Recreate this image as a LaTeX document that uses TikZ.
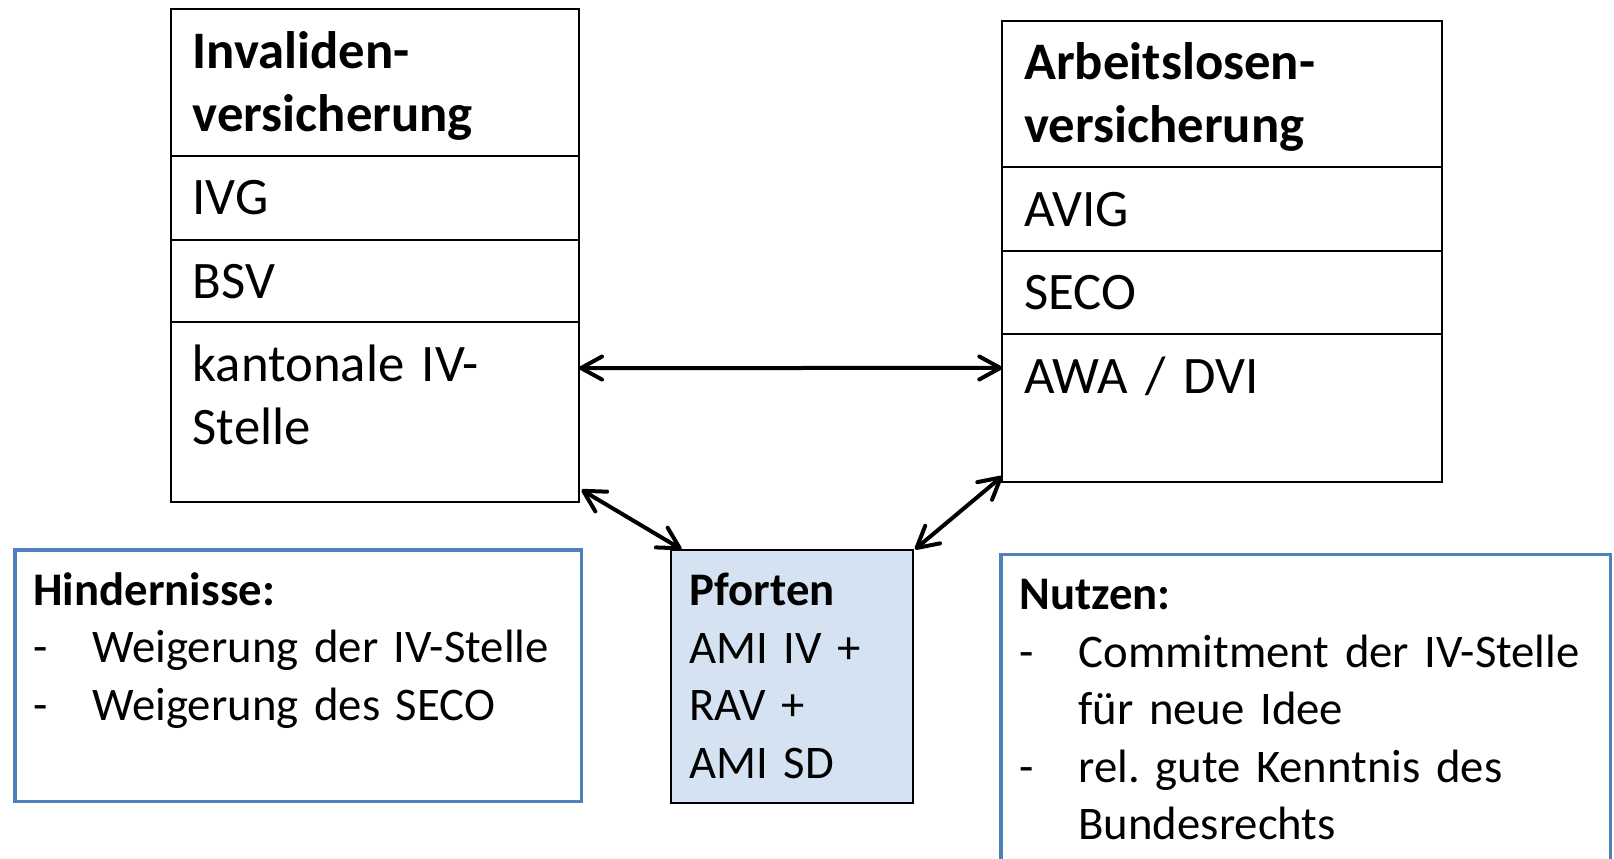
\documentclass[tikz,border=0pt]{standalone}
\usepackage{fontspec}
\setmainfont{Carlito}
\usetikzlibrary{positioning,arrows.meta}
\definecolor{randblau}{HTML}{4F81BD}
\definecolor{pfortenblau}{HTML}{D5E2F2}
\newcommand\grosstext{\fontsize{30}{36}\selectfont}
\newcommand\kleintext{\fontsize{26.6}{32.7}\selectfont}
\newcommand\strich[1]{\makebox[1.18cm][l]{-}\mbox{#1}}
\newcommand\weiter[1]{\hspace*{1.18cm}\mbox{#1}}
\frenchspacing
\tikzset{
	cell/.style={draw,line width=0.04cm,inner xsep=0.44cm,inner ysep=0pt,outer sep=0pt,
	align=left,text width=#1,text height=1.18cm,font=\grosstext},
	infobox/.style={draw=randblau,line width=0.066cm,inner xsep=0.37cm,inner ysep=0pt,
	anchor=north west,align=left,text width=#1,text height=1.11cm,font=\kleintext},
	dblarrow/.style={{Straight Barb[length=0.42cm,width=0.46cm,round]}-{Straight Barb[length=0.42cm,width=0.46cm,round]},line width=0.08cm}
}
\begin{document}
\begin{tikzpicture}
	\clip (0,0) rectangle (32.28,17.16);
	\useasboundingbox (0,0) rectangle (32.28,17.16);
	\node(ivkopf) [cell=7.286cm,anchor=north west,text depth=1.75cm] at (3.414,16.974) {\textbf{Invaliden-}\\\textbf{versicherung}};
	\node(ivg) [cell=7.286cm,text depth=0.5cm,below=0pt of ivkopf] {IVG};
	\node(bsv) [cell=7.286cm,text depth=0.47cm,below=0pt of ivg] {BSV};
	\node(kant) [cell=7.286cm,text depth=2.41cm,below=0pt of bsv] {kantonale IV-\\Stelle};
	\node(alkopf) [cell=7.91cm,anchor=north west,text depth=1.75cm] at (20.046,16.746) {\textbf{Arbeitslosen-}\\\textbf{versicherung}};
	\node(avig) [cell=7.91cm,text depth=0.49cm,below=0pt of alkopf] {AVIG};
	\node(seco) [cell=7.91cm,text depth=0.49cm,below=0pt of avig] {SECO};
	\node(awa) [cell=7.91cm,text depth=1.77cm,below=0pt of seco] {AWA / DVI};
	\node(hindernisse) [infobox=10.59cm,text depth=3.92cm] at (0.266,6.194) {\textbf{Hindernisse:}\\\strich{Weigerung der IV-Stelle}\\\strich{Weigerung des SECO}};
	\node(pforten) [infobox=4.1cm,draw=black,line width=0.04cm,fill=pfortenblau,text depth=3.94cm] at (13.4,6.174) {\textbf{Pforten}\\AMI IV +\\RAV +\\AMI SD};
	\node(nutzen) [infobox=11.45cm,text depth=5.4cm] at (19.986,6.106) {\textbf{Nutzen:}\\\strich{Commitment der IV-Stelle}\\\weiter{für neue Idee}\\\strich{rel. gute Kenntnis des}\\\weiter{Bundesrechts}};
	\draw [dblarrow] ([yshift=0.88cm]kant.east) -- ([yshift=0.8cm]awa.west);
	\draw [dblarrow] ([xshift=0.05cm,yshift=0.24cm]kant.south east) -- ([xshift=0.23cm]pforten.north west);
	\draw [dblarrow] ([xshift=0.02cm]pforten.north east) -- ([yshift=0.11cm]awa.south west);
\end{tikzpicture}
\end{document}
